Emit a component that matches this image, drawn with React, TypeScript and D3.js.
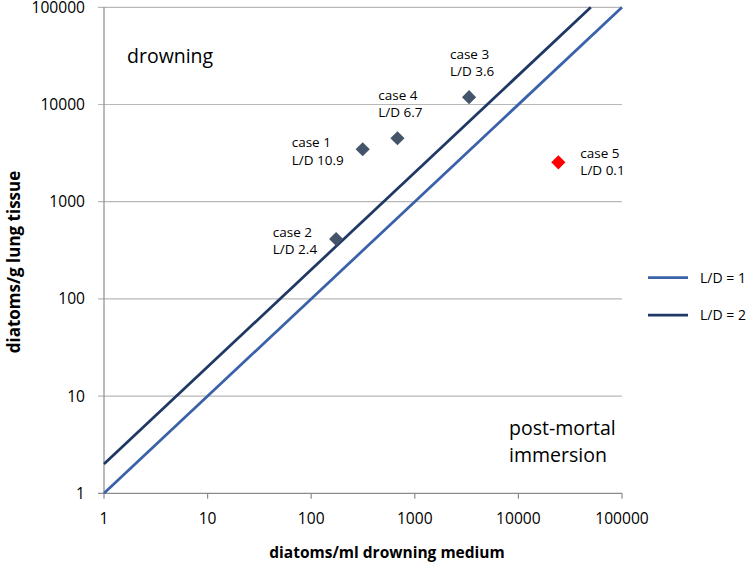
import React, { useEffect, useRef } from "react";
import * as d3 from "d3";

const caseNames = ["case 1", "case 2", "case 3", "case 4", "case 5"];
const caseRatios = ["L/D 10.9", "L/D 2.4", "L/D 3.6", "L/D 6.7", "L/D 0.1"];
const mediumValues = [314, 174, 3340, 680, 24300];
const lungValues = [3460, 413, 11900, 4490, 2540];
const caseColors = ["#44546A", "#44546A", "#44546A", "#44546A", "#FF0000"];
const labelPlacement = ["left", "left", "above", "above", "right"];

const tickValues = [1, 10, 100, 1000, 10000, 100000];
const ld1Line = [[1, 1], [100000, 100000]];
const ld2Line = [[1, 2], [50000, 100000]];
const legendLabels = ["L/D = 1", "L/D = 2"];
const legendColors = ["#3A62A8", "#1F3864"];

const FONT = "'Open Sans', 'DejaVu Sans', sans-serif";

export default function App() {
  const ref = useRef<SVGSVGElement | null>(null);
  useEffect(() => {
    const svg = d3.select(ref.current);
    svg.selectAll("*").remove();
    const left = 104, right = 622, top = 7.3, bottom = 493.3;
    const x = d3.scaleLog().domain([1, 100000]).range([left, right]);
    const y = d3.scaleLog().domain([1, 100000]).range([bottom, top]);

    // gridlines
    svg.append("g").selectAll("line").data(tickValues).join("line")
      .attr("x1", left - 6).attr("x2", right)
      .attr("y1", d => y(d)).attr("y2", d => y(d))
      .attr("stroke", d => d === 1 ? "#8c8c8c" : "#b8b8b8").attr("stroke-width", 1.2);
    // y axis line
    svg.append("line").attr("x1", left).attr("x2", left).attr("y1", top).attr("y2", bottom)
      .attr("stroke", "#8c8c8c").attr("stroke-width", 1.2);
    // x ticks
    svg.append("g").selectAll("line").data(tickValues).join("line")
      .attr("x1", d => x(d)).attr("x2", d => x(d))
      .attr("y1", bottom).attr("y2", bottom + 5.5)
      .attr("stroke", "#8c8c8c").attr("stroke-width", 1.2);

    // tick labels
    svg.append("g").selectAll("text").data(tickValues).join("text")
      .attr("x", 85).attr("y", d => y(d) + 5.4)
      .attr("text-anchor", "end").attr("font-family", FONT).attr("font-size", 15.6)
      .attr("fill", "#000").text(d => String(d));
    svg.append("g").selectAll("text").data(tickValues).join("text")
      .attr("x", d => x(d)).attr("y", 523.5)
      .attr("text-anchor", "middle").attr("font-family", FONT).attr("font-size", 15.6)
      .attr("fill", "#000").text(d => String(d));

    // axis titles
    svg.append("text").attr("x", 387).attr("y", 558)
      .attr("text-anchor", "middle").attr("font-family", FONT).attr("font-weight", "bold")
      .attr("font-size", 15.5).attr("fill", "#000").text("diatoms/ml drowning medium");
    svg.append("text").attr("transform", "translate(20,262) rotate(-90)")
      .attr("text-anchor", "middle").attr("font-family", FONT).attr("font-weight", "bold")
      .attr("font-size", 17).attr("fill", "#000").text("diatoms/g lung tissue");

    // region labels
    svg.append("text").attr("x", 127).attr("y", 63.3).attr("font-family", FONT)
      .attr("font-size", 19.5).attr("fill", "#000").text("drowning");
    const pm = svg.append("text").attr("font-family", FONT).attr("font-size", 19.5).attr("fill", "#000");
    pm.append("tspan").attr("x", 509).attr("y", 435).text("post-mortal");
    pm.append("tspan").attr("x", 509).attr("y", 461.7).text("immersion");

    // lines
    const line = d3.line<number[]>().x(d => x(d[0])).y(d => y(d[1]));
    svg.append("path").attr("d", line(ld1Line) as string).attr("fill", "none")
      .attr("stroke", legendColors[0]).attr("stroke-width", 2.75);
    svg.append("path").attr("d", line(ld2Line) as string).attr("fill", "none")
      .attr("stroke", legendColors[1]).attr("stroke-width", 2.75);

    // markers
    const diamond = d3.symbol().type(d3.symbolSquare).size(100);
    mediumValues.forEach((mv, i) => {
      const px = x(mv), py = y(lungValues[i]);
      svg.append("path").attr("d", diamond() as string)
        .attr("transform", `translate(${px},${py}) rotate(45)`)
        .attr("fill", caseColors[i]);
      const g = svg.append("g");
      const t = g.append("text").attr("font-family", FONT).attr("font-size", 13.5).attr("fill", "#000");
      const t1 = t.append("tspan").attr("x", 0).attr("y", 0).text(caseNames[i]);
      const t2 = t.append("tspan").attr("x", 0).attr("y", 17.5).text(caseRatios[i]);
      const w = Math.max((t1.node() as any).getComputedTextLength(), (t2.node() as any).getComputedTextLength());
      const p = labelPlacement[i];
      let tx = 0, ty = 0;
      if (p === "left") { tx = px - 19 - w; ty = py - 2.2; }
      else if (p === "above") { tx = px + 3 - w / 2; ty = py - 21 - 17.5; }
      else { tx = px + 22; ty = py - 4.6; }
      g.attr("transform", `translate(${tx},${ty})`);
    });

    // legend
    legendLabels.forEach((lab, i) => {
      const ly = i === 0 ? 277.7 : 315;
      svg.append("line").attr("x1", 648).attr("x2", 688).attr("y1", ly).attr("y2", ly)
        .attr("stroke", legendColors[i]).attr("stroke-width", 2.75);
      svg.append("text").attr("x", 700).attr("y", ly + 5).attr("font-family", FONT)
        .attr("font-size", 14).attr("fill", "#000").text(lab);
    });
  }, []);
  return (
    <svg ref={ref} width={749} height={566}
      style={{ position: "absolute", left: 0, top: 0, background: "#fff" }} />
  );
}
